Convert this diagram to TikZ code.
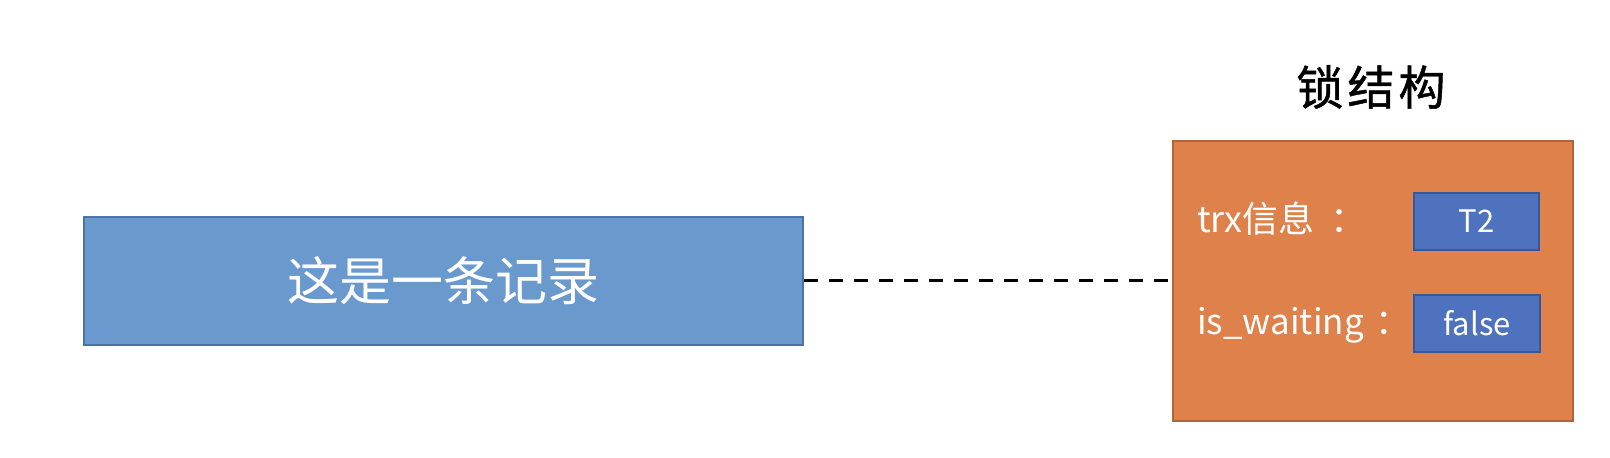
\documentclass[tikz,border=0pt]{standalone}
\usepackage{fontspec}
\setmainfont{Noto Sans CJK SC}
\newfontfamily\titlefont[FakeBold=1]{Noto Sans CJK SC}
\definecolor{recfill}{HTML}{6A99CD}
\definecolor{recdraw}{HTML}{4A74A6}
\definecolor{lockfill}{HTML}{DE814A}
\definecolor{lockdraw}{HTML}{B0643A}
\definecolor{valfill}{HTML}{4F72BE}
\definecolor{valdraw}{HTML}{35589A}
\tikzset{
  recbox/.style={rectangle, draw=recdraw, fill=recfill, line width=2pt, inner sep=0pt, text=white},
  lockbox/.style={rectangle, draw=lockdraw, fill=lockfill, line width=2pt, inner sep=0pt},
  valbox/.style={rectangle, draw=valdraw, fill=valfill, line width=2pt, inner sep=0pt, text=white,
    font=\fontsize{31}{36}\selectfont},
  lbl/.style={inner sep=0pt, text=white, anchor=base west, font=\fontsize{36}{42}\selectfont},
  link/.style={line width=3pt, dash pattern=on 14pt off 11pt}
}
\begin{document}
\begin{tikzpicture}[x=1pt,y=1pt]
\useasboundingbox (0,0) rectangle (1610,458);
\node[recbox, minimum width=719pt, minimum height=128pt,
  font=\fontsize{52}{60}\selectfont] (rec) at (443.5,177) {这是一条记录};
\node[lockbox, minimum width=400pt, minimum height=280pt] (lock) at (1373,177) {};
\node[inner sep=0pt, font=\titlefont\fontsize{47}{54}\selectfont] (title) at (1371,371) {锁\hspace{4pt}结\hspace{4pt}构};
\node[lbl] (trx) at (1197,225) {trx信息\hspace{16pt}：};
\node[lbl, font=\fontsize{35}{42}\selectfont] (wait) at (1197,123) {is\_waiting\hspace{12pt}：};
\node[valbox, minimum width=125pt, minimum height=57pt] (t2) at (1476.5,236.5) {T2};
\node[valbox, minimum width=126pt, minimum height=57pt] (fv) at (1477,134.5) {false};
\draw[link] (rec.east) -- (lock.west);
\end{tikzpicture}
\end{document}
